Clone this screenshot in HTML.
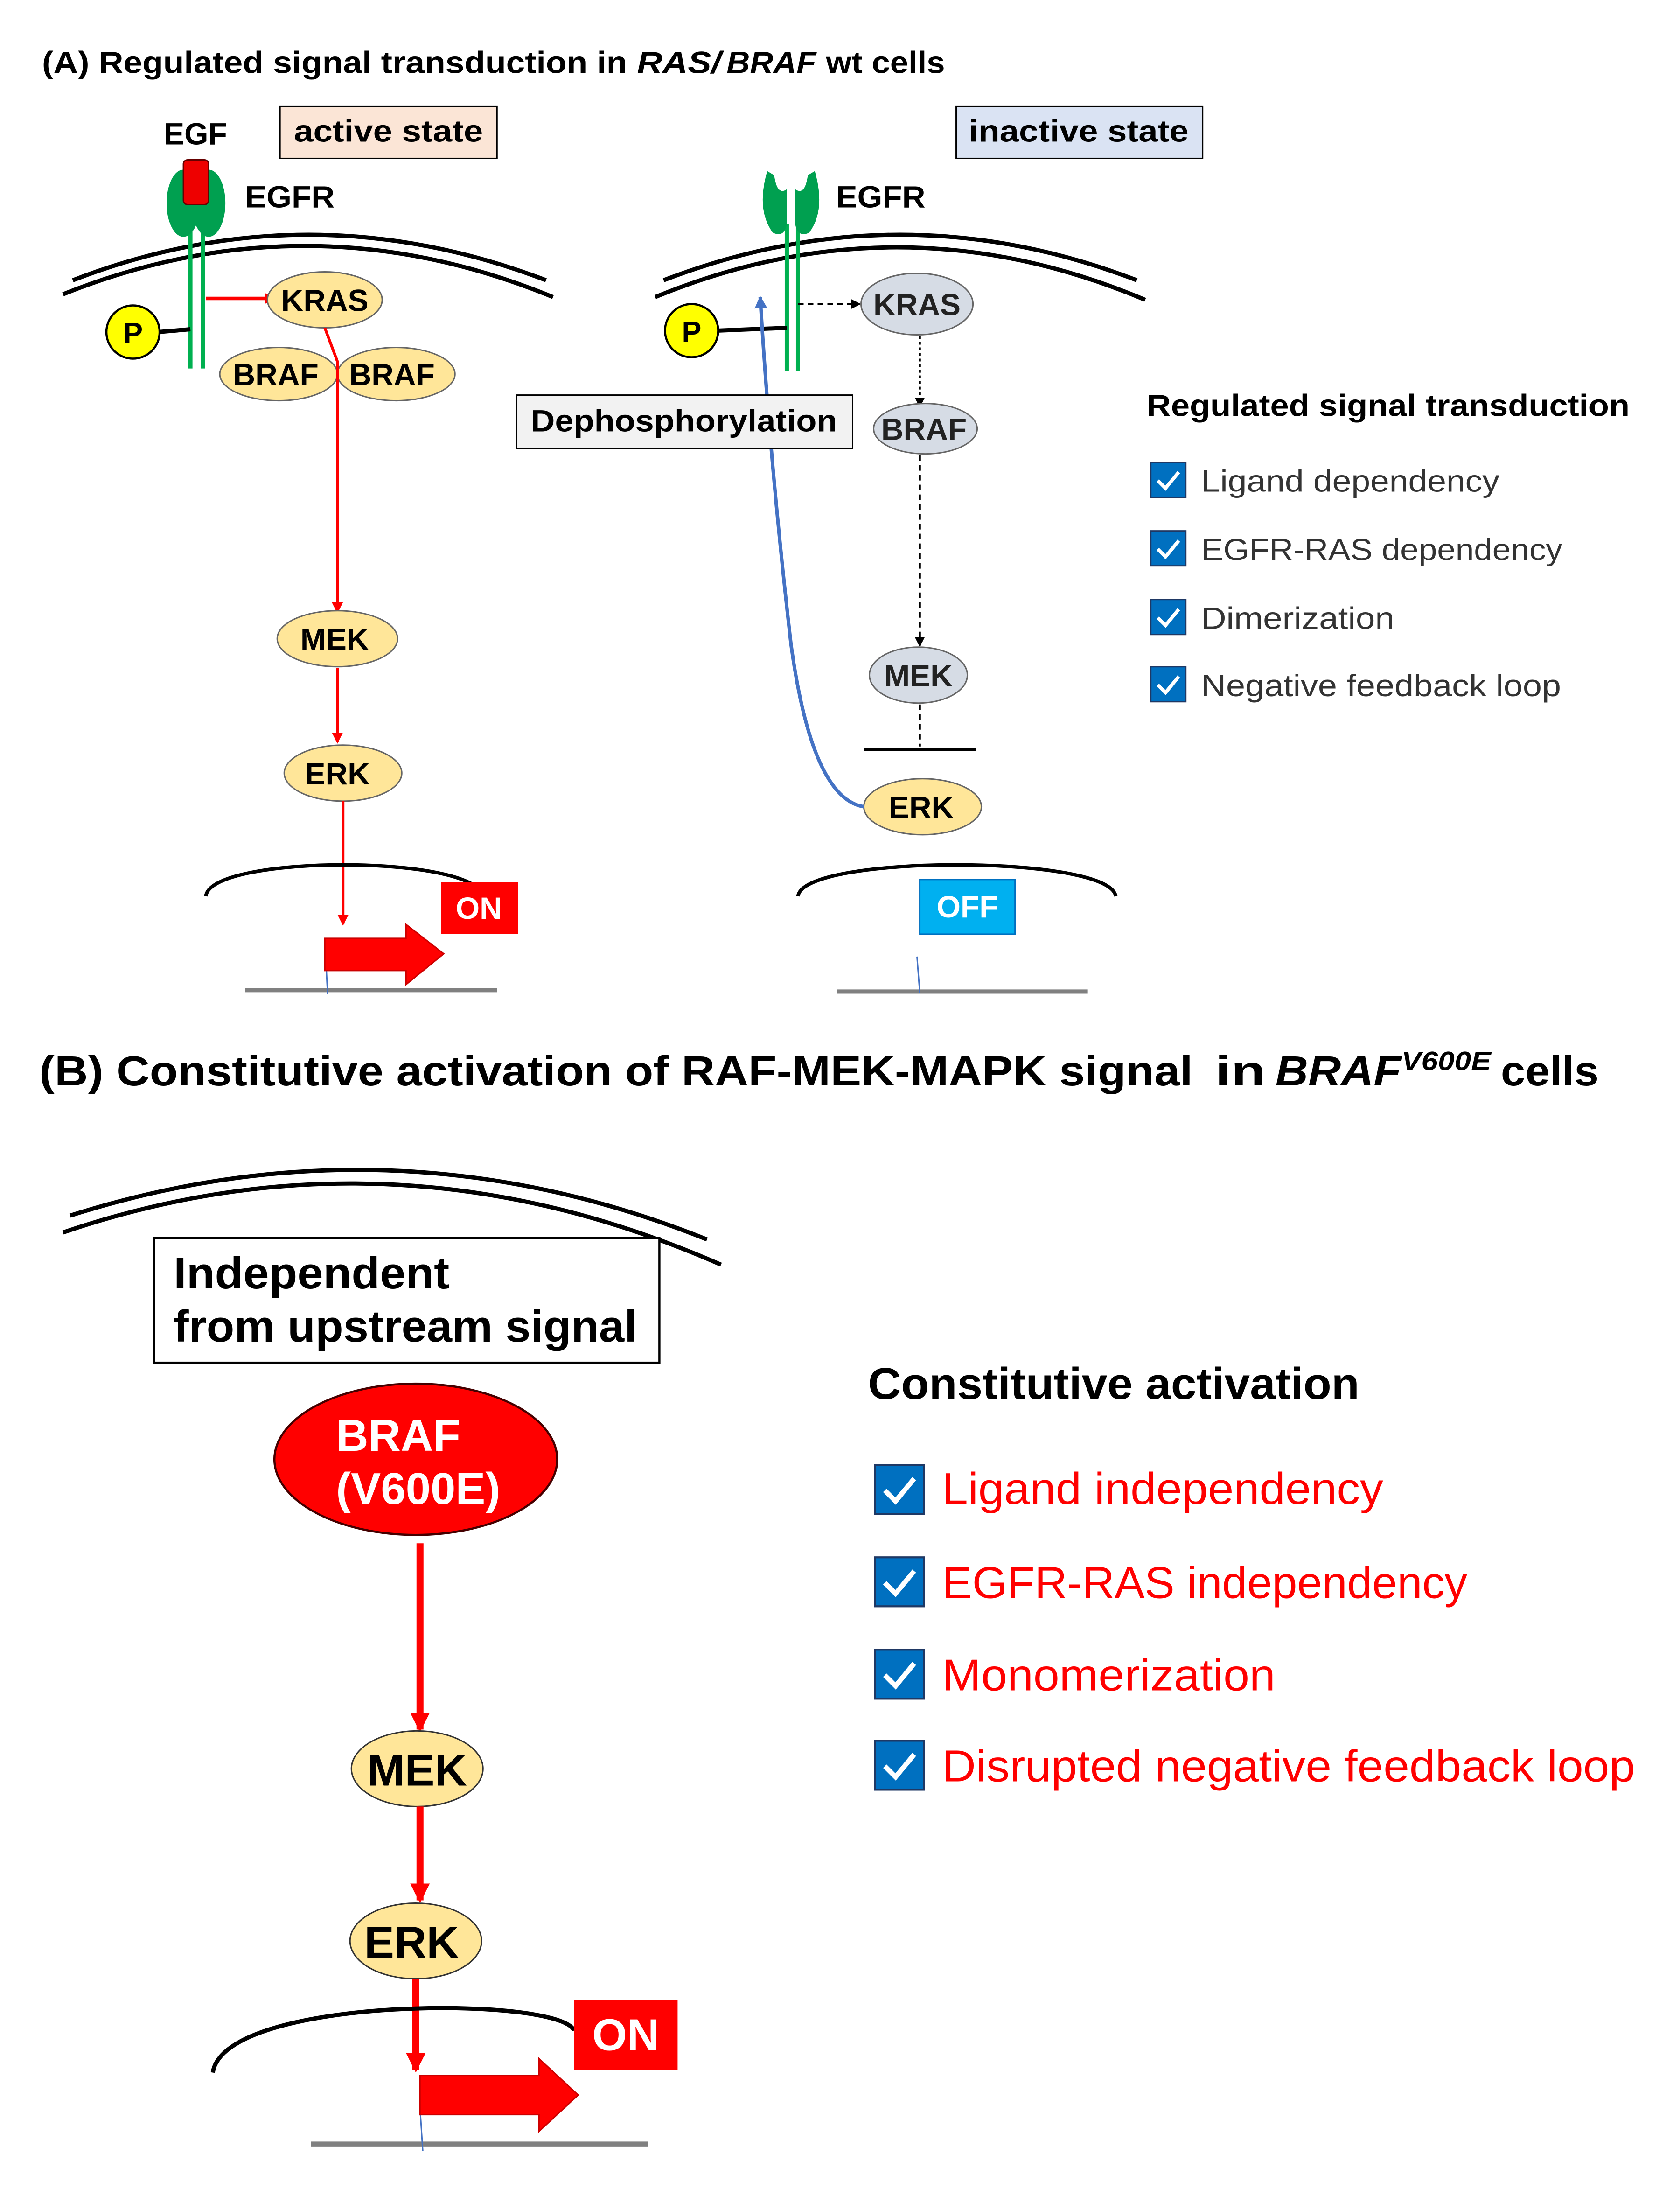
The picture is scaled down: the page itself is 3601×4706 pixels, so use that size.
<!DOCTYPE html>
<html><head><meta charset="utf-8"><style>
html,body{margin:0;padding:0;background:#fff}
svg{display:block}
text{font-family:"Liberation Sans","Noto Sans CJK JP",sans-serif}
.b{font-weight:bold}
</style></head><body>
<svg width="3601" height="4706" viewBox="0 0 1200 1568" xmlns="http://www.w3.org/2000/svg">
<defs>
<marker id="ar" markerWidth="8" markerHeight="8" refX="7" refY="4" orient="auto" markerUnits="userSpaceOnUse"><path d="M0,0 L8,4 L0,8z" fill="#f00"/></marker>
<marker id="ak" markerWidth="7" markerHeight="7" refX="6" refY="3.5" orient="auto" markerUnits="userSpaceOnUse"><path d="M0,0 L7,3.5 L0,7z" fill="#000"/></marker>
<marker id="ab" markerWidth="9" markerHeight="9" refX="8" refY="4.5" orient="auto" markerUnits="userSpaceOnUse"><path d="M0,0 L9,4.5 L0,9z" fill="#4472c4"/></marker>
<marker id="arb" markerWidth="14" markerHeight="14" refX="12" refY="7" orient="auto" markerUnits="userSpaceOnUse"><path d="M0,0 L14,7 L0,14z" fill="#f00"/></marker>
<g id="chk"><rect x="0" y="0" width="25" height="25" fill="#0070c0" stroke="#1f3864" stroke-width="1"/><path d="M5,13 L10.5,18.5 L20,7" fill="none" stroke="#fff" stroke-width="2.5"/></g>
</defs>

<!-- Panel A -->
<text x="30" y="52" class="b" font-size="22" textLength="418" lengthAdjust="spacingAndGlyphs">(A) Regulated signal transduction in</text>
<text x="455" y="52" class="b" font-size="22" font-style="italic" textLength="60" lengthAdjust="spacingAndGlyphs">RAS/</text>
<text x="519" y="52" class="b" font-size="22" font-style="italic" textLength="64" lengthAdjust="spacingAndGlyphs">BRAF</text>
<text x="590" y="52" class="b" font-size="22" textLength="85" lengthAdjust="spacingAndGlyphs">wt cells</text>
<rect x="200" y="76" width="155" height="37" fill="#fbe5d6" stroke="#000"/>
<text x="210" y="101" class="b" font-size="22" textLength="135" lengthAdjust="spacingAndGlyphs">active state</text>
<rect x="683" y="76" width="176" height="37" fill="#dae3f3" stroke="#000"/>
<text x="692" y="101" class="b" font-size="22" textLength="157" lengthAdjust="spacingAndGlyphs">inactive state</text>

<!-- left cell -->
<text x="117" y="103" class="b" font-size="22">EGF</text>
<text x="175" y="148" class="b" font-size="22" textLength="64" lengthAdjust="spacingAndGlyphs">EGFR</text>
<path d="M45,210 Q220,140 395,212" fill="none" stroke="#000" stroke-width="3"/>
<path d="M52,200 Q220,135 390,200" fill="none" stroke="#000" stroke-width="3"/>
<line x1="136" y1="160" x2="136" y2="263" stroke="#00b050" stroke-width="3"/>
<line x1="145" y1="160" x2="145" y2="263" stroke="#00b050" stroke-width="3"/>
<ellipse cx="131" cy="145" rx="12" ry="24" fill="#00a050"/>
<ellipse cx="149" cy="145" rx="12" ry="24" fill="#00a050"/>
<rect x="131" y="114" width="18" height="32" rx="3" fill="#e00" stroke="#600"/>
<line x1="113" y1="237" x2="136" y2="235" stroke="#000" stroke-width="3"/>
<circle cx="95" cy="237" r="19" fill="#ff0" stroke="#000" stroke-width="1.5"/>
<text x="95" y="245" class="b" font-size="21" text-anchor="middle">P</text>
<line x1="147" y1="213" x2="196" y2="213" stroke="#f00" stroke-width="2.5" marker-end="url(#ar)"/>
<ellipse cx="232" cy="214" rx="41" ry="20" fill="#ffe699" stroke="#666"/>
<text x="232" y="222" class="b" font-size="22" text-anchor="middle">KRAS</text>
<ellipse cx="199" cy="267" rx="42" ry="19" fill="#ffe699" stroke="#666"/>
<ellipse cx="283" cy="267" rx="42" ry="19" fill="#ffe699" stroke="#666"/>
<text x="197" y="275" class="b" font-size="22" text-anchor="middle">BRAF</text>
<text x="280" y="275" class="b" font-size="22" text-anchor="middle">BRAF</text>
<polyline points="232,234 241,258 241,437" fill="none" stroke="#f00" stroke-width="2" marker-end="url(#ar)"/>
<ellipse cx="241" cy="456" rx="43" ry="20" fill="#ffe699" stroke="#666"/>
<text x="239" y="464" class="b" font-size="22" text-anchor="middle">MEK</text>
<line x1="241" y1="477" x2="241" y2="530" stroke="#f00" stroke-width="2" marker-end="url(#ar)"/>
<ellipse cx="245" cy="552" rx="42" ry="20" fill="#ffe699" stroke="#666"/>
<text x="241" y="560" class="b" font-size="22" text-anchor="middle">ERK</text>
<line x1="245" y1="572" x2="245" y2="660" stroke="#f00" stroke-width="2" marker-end="url(#ar)"/>
<path d="M147,640 C150,610 340,610 345,640" fill="none" stroke="#000" stroke-width="2.5"/>
<rect x="315" y="630" width="55" height="37" fill="#f00"/>
<text x="342" y="656" class="b" font-size="22" fill="#fff" text-anchor="middle">ON</text>
<line x1="175" y1="707" x2="355" y2="707" stroke="#808080" stroke-width="3"/>
<line x1="233" y1="690" x2="234" y2="710" stroke="#4472c4" stroke-width="1"/>
<path d="M232,670 L290,670 L290,660 L317,681 L290,703 L290,693 L232,693z" fill="#f00" stroke="#c00"/>

<!-- right cell -->
<text x="597" y="148" class="b" font-size="22" textLength="64" lengthAdjust="spacingAndGlyphs">EGFR</text>
<path d="M468,212 Q643,140 818,214" fill="none" stroke="#000" stroke-width="3"/>
<path d="M474,200 Q643,135 812,200" fill="none" stroke="#000" stroke-width="3"/>
<line x1="562" y1="160" x2="562" y2="265" stroke="#00b050" stroke-width="3"/>
<line x1="570" y1="160" x2="570" y2="265" stroke="#00b050" stroke-width="3"/>
<path d="M548,122 Q540,150 552,166 Q560,170 562,160 L562,135 Q555,140 553,125z" fill="#00a050"/>
<path d="M582,122 Q590,150 578,166 Q570,170 568,160 L568,135 Q575,140 577,125z" fill="#00a050"/>
<line x1="512" y1="236" x2="562" y2="234" stroke="#000" stroke-width="3"/>
<circle cx="494" cy="236" r="19" fill="#ff0" stroke="#000" stroke-width="1.5"/>
<text x="494" y="244" class="b" font-size="21" text-anchor="middle">P</text>
<line x1="570" y1="217" x2="614" y2="217" stroke="#000" stroke-width="1.5" stroke-dasharray="4,3" marker-end="url(#ak)"/>
<ellipse cx="655" cy="217" rx="40" ry="22" fill="#d6dce5" stroke="#666"/>
<text x="655" y="225" class="b" font-size="22" text-anchor="middle" fill="#222">KRAS</text>
<line x1="657" y1="240" x2="657" y2="290" stroke="#000" stroke-width="1.5" stroke-dasharray="2,2" marker-end="url(#ak)"/>
<ellipse cx="661" cy="306" rx="37" ry="18" fill="#d6dce5" stroke="#666"/>
<text x="660" y="314" class="b" font-size="22" text-anchor="middle" fill="#222">BRAF</text>
<line x1="657" y1="325" x2="657" y2="461" stroke="#000" stroke-width="1.5" stroke-dasharray="4,3" marker-end="url(#ak)"/>
<ellipse cx="656" cy="482" rx="35" ry="20" fill="#d6dce5" stroke="#666"/>
<text x="656" y="490" class="b" font-size="22" text-anchor="middle" fill="#222">MEK</text>
<line x1="657" y1="503" x2="657" y2="533" stroke="#000" stroke-width="1.5" stroke-dasharray="4,3"/>
<line x1="617" y1="535" x2="697" y2="535" stroke="#000" stroke-width="2.5"/>
<ellipse cx="659" cy="576" rx="42" ry="20" fill="#ffe699" stroke="#666"/>
<text x="658" y="584" class="b" font-size="22" text-anchor="middle">ERK</text>
<path d="M617,576 Q580,570 565,460 Q550,330 543,212" fill="none" stroke="#4472c4" stroke-width="2.5" marker-end="url(#ab)"/>
<rect x="369" y="282" width="240" height="38" fill="#f2f2f2" stroke="#000"/>
<text x="379" y="308" class="b" font-size="22" textLength="219" lengthAdjust="spacingAndGlyphs">Dephosphorylation</text>
<path d="M570,640 C573,610 793,610 797,640" fill="none" stroke="#000" stroke-width="2.5"/>
<rect x="657" y="628" width="68" height="39" fill="#00b0f0" stroke="#0070c0"/>
<text x="691" y="655" class="b" font-size="22" fill="#fff" text-anchor="middle">OFF</text>
<line x1="598" y1="708" x2="777" y2="708" stroke="#808080" stroke-width="3"/>
<line x1="655" y1="683" x2="657" y2="709" stroke="#4472c4" stroke-width="1"/>

<text x="819" y="297" class="b" font-size="22" textLength="345" lengthAdjust="spacingAndGlyphs">Regulated signal transduction</text>
<use href="#chk" x="822" y="330"/><text x="858" y="351" font-size="22" fill="#333" textLength="213" lengthAdjust="spacingAndGlyphs">Ligand dependency</text>
<use href="#chk" x="822" y="379"/><text x="858" y="400" font-size="22" fill="#333" textLength="258" lengthAdjust="spacingAndGlyphs">EGFR-RAS dependency</text>
<use href="#chk" x="822" y="428"/><text x="858" y="449" font-size="22" fill="#333" textLength="138" lengthAdjust="spacingAndGlyphs">Dimerization</text>
<use href="#chk" x="822" y="476"/><text x="858" y="497" font-size="22" fill="#333" textLength="257" lengthAdjust="spacingAndGlyphs">Negative feedback loop</text>

<!-- Panel B -->
<text x="28" y="775" class="b" font-size="30" textLength="824" lengthAdjust="spacingAndGlyphs">(B) Constitutive activation of RAF-MEK-MAPK signal</text>
<text x="868" y="775" class="b" font-size="30" textLength="36" lengthAdjust="spacingAndGlyphs">in</text>
<text x="911" y="775" class="b" font-size="30" font-style="italic" textLength="90" lengthAdjust="spacingAndGlyphs">BRAF</text>
<text x="1001" y="764" class="b" font-size="19" font-style="italic" textLength="64" lengthAdjust="spacingAndGlyphs">V600E</text>
<text x="1072" y="775" class="b" font-size="30" textLength="70" lengthAdjust="spacingAndGlyphs">cells</text>
<path d="M45,880 Q280,800 515,903" fill="none" stroke="#000" stroke-width="3"/>
<path d="M50,868 Q280,795 505,885" fill="none" stroke="#000" stroke-width="3"/>
<rect x="110" y="884" width="361" height="89" fill="#fff" stroke="#000" stroke-width="1.5"/>
<text x="124" y="920" class="b" font-size="32" textLength="197" lengthAdjust="spacingAndGlyphs">Independent</text>
<text x="124" y="958" class="b" font-size="32" textLength="331" lengthAdjust="spacingAndGlyphs">from upstream signal</text>
<ellipse cx="297" cy="1042" rx="101" ry="54" fill="#f00" stroke="#400" stroke-width="1.5"/>
<text x="240" y="1036" class="b" font-size="32" fill="#fff">BRAF</text>
<text x="240" y="1074" class="b" font-size="32" fill="#fff">(V600E)</text>
<line x1="300" y1="1102" x2="300" y2="1235" stroke="#f00" stroke-width="5" marker-end="url(#arb)"/>
<ellipse cx="298" cy="1263" rx="47" ry="27" fill="#ffe699" stroke="#333"/>
<text x="298" y="1275" class="b" font-size="32" text-anchor="middle">MEK</text>
<line x1="300" y1="1290" x2="300" y2="1357" stroke="#f00" stroke-width="5" marker-end="url(#arb)"/>
<ellipse cx="297" cy="1386" rx="47" ry="27" fill="#ffe699" stroke="#333"/>
<text x="294" y="1398" class="b" font-size="32" text-anchor="middle">ERK</text>
<line x1="297" y1="1413" x2="297" y2="1478" stroke="#f00" stroke-width="5" marker-end="url(#arb)"/>
<path d="M152,1480 C160,1425 400,1425 410,1450" fill="none" stroke="#000" stroke-width="3"/>
<rect x="410" y="1428" width="74" height="50" fill="#f00"/>
<text x="447" y="1464" class="b" font-size="32" fill="#fff" text-anchor="middle">ON</text>
<line x1="222" y1="1531" x2="463" y2="1531" stroke="#808080" stroke-width="3.5"/>
<line x1="300" y1="1505" x2="302" y2="1536" stroke="#4472c4" stroke-width="1"/>
<path d="M300,1482 L385,1482 L385,1470 L413,1496 L385,1522 L385,1510 L300,1510z" fill="#f00" stroke="#c00"/>

<text x="620" y="999" class="b" font-size="32" textLength="351" lengthAdjust="spacingAndGlyphs">Constitutive activation</text>
<g transform="translate(625,1046) scale(1.4)"><use href="#chk"/></g>
<text x="673" y="1074" font-size="32" fill="#f00" textLength="315" lengthAdjust="spacingAndGlyphs">Ligand independency</text>
<g transform="translate(625,1112) scale(1.4)"><use href="#chk"/></g>
<text x="673" y="1141" font-size="32" fill="#f00" textLength="375" lengthAdjust="spacingAndGlyphs">EGFR-RAS independency</text>
<g transform="translate(625,1178) scale(1.4)"><use href="#chk"/></g>
<text x="673" y="1207" font-size="32" fill="#f00" textLength="238" lengthAdjust="spacingAndGlyphs">Monomerization</text>
<g transform="translate(625,1243) scale(1.4)"><use href="#chk"/></g>
<text x="673" y="1272" font-size="32" fill="#f00" textLength="495" lengthAdjust="spacingAndGlyphs">Disrupted negative feedback loop</text>
</svg>
</body></html>
